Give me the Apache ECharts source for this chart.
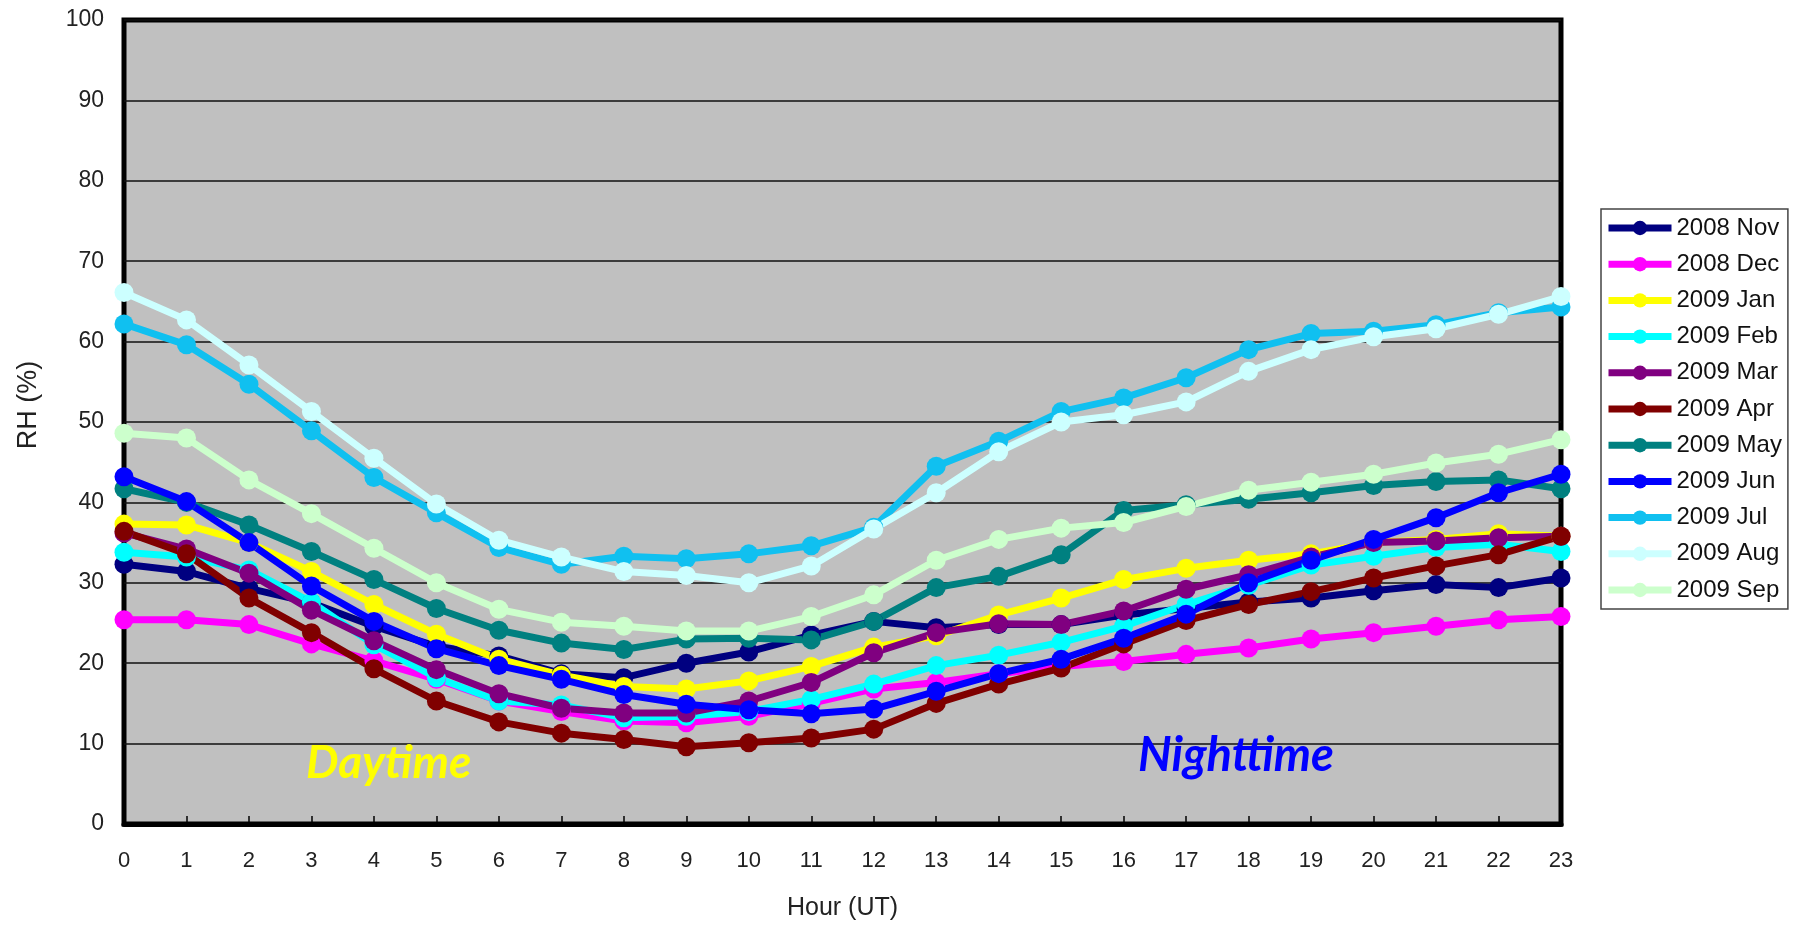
<!DOCTYPE html>
<html>
<head>
<meta charset="utf-8">
<script src="https://cdn.jsdelivr.net/npm/echarts@6/dist/echarts.min.js"></script>
<style>
html,body{margin:0;padding:0;background:#fff;}
#chart{width:1793px;height:926px;}
</style>
</head>
<body>
<div id="chart"></div>
<script>
var hours = ['0','1','2','3','4','5','6','7','8','9','10','11','12','13','14','15','16','17','18','19','20','21','22','23'];
var yTicks = [0,10,20,30,40,50,60,70,80,90,100];

var nov2008 = [32.3,31.4,29.3,27.5,24.6,22.1,20.9,18.7,18.2,20.0,21.4,23.5,25.2,24.4,24.8,24.8,26.0,26.8,27.6,28.1,29.0,29.8,29.4,30.6];
var dec2008 = [25.4,25.4,24.8,22.4,20.3,18.0,15.3,14.0,12.8,12.6,13.4,15.0,16.8,17.6,18.7,19.6,20.2,21.1,21.9,23.0,23.8,24.6,25.4,25.8];
var jan2009 = [37.3,37.2,35.0,31.4,27.3,23.6,20.5,18.5,17.1,16.8,17.8,19.6,22.0,23.4,26.0,28.1,30.4,31.8,32.8,33.6,35.0,35.4,36.1,35.8];
var feb2009 = [33.8,33.2,31.6,27.6,22.3,18.2,15.3,14.8,13.2,13.4,14.0,15.5,17.4,19.7,21.0,22.6,24.6,27.3,29.7,32.2,33.3,34.4,34.8,33.9];
var mar2009 = [36.2,34.2,31.2,26.6,22.8,19.2,16.2,14.4,13.8,13.8,15.3,17.6,21.3,23.8,24.9,24.8,26.5,29.2,31.0,33.2,35.0,35.2,35.6,35.8];
var apr2009 = [36.4,33.6,28.1,23.8,19.3,15.3,12.7,11.3,10.5,9.6,10.1,10.7,11.8,15.0,17.4,19.4,22.4,25.3,27.3,28.9,30.6,32.1,33.5,35.8];
var may2009 = [41.7,40.0,37.2,33.9,30.4,26.8,24.1,22.5,21.7,23.0,23.1,22.9,25.2,29.4,30.8,33.5,39.0,39.7,40.4,41.2,42.1,42.6,42.8,41.7];
var jun2009 = [43.2,40.1,35.0,29.6,25.2,21.8,19.7,18.0,16.1,14.9,14.2,13.7,14.3,16.5,18.7,20.5,23.1,26.1,30.0,32.8,35.4,38.1,41.2,43.5];
var jul2009 = [62.2,59.6,54.7,48.9,43.1,38.7,34.4,32.3,33.3,33.0,33.6,34.6,36.9,44.5,47.6,51.3,53.0,55.5,59.0,61.0,61.3,62.1,63.6,64.3];
var aug2009 = [66.1,62.7,57.1,51.3,45.5,39.8,35.3,33.2,31.4,30.9,30.0,32.1,36.7,41.2,46.3,50.0,50.9,52.5,56.3,59.0,60.6,61.6,63.4,65.6];
var sep2009 = [48.6,48.0,42.8,38.6,34.3,30.0,26.7,25.1,24.6,24.0,24.0,25.8,28.5,32.8,35.4,36.8,37.5,39.5,41.5,42.5,43.5,44.9,46.0,47.8];

var seriesNames = ['2008 Nov','2008 Dec','2009 Jan','2009 Feb','2009 Mar','2009 Apr','2009 May','2009 Jun','2009 Jul','2009 Aug','2009 Sep'];
var seriesData = [nov2008,dec2008,jan2009,feb2009,mar2009,apr2009,may2009,jun2009,jul2009,aug2009,sep2009];
var seriesColors = ['#000080','#FF00FF','#FFFF00','#00FFFF','#800080','#800000','#008080','#0000FF','#10C0F0','#CCFFFF','#CCFFCC'];

var chart = echarts.init(document.getElementById('chart'));
var series = seriesNames.map(function(n,i){
  return {
    name:n, type:'line', data:seriesData[i],
    symbol:'circle', symbolSize:19,
    lineStyle:{width:7,color:seriesColors[i]},
    itemStyle:{color:seriesColors[i]},
    emphasis:{disabled:true},
    animation:false
  };
});

chart.setOption({
  backgroundColor:'#ffffff',
  animation:false,
  grid:{left:124,right:232,top:20,bottom:102,show:true,backgroundColor:'#C0C0C0',borderColor:'#000',borderWidth:5,containLabel:false},
  xAxis:{
    type:'category', data:hours, boundaryGap:false,
    name:'Hour (UT)', nameLocation:'middle', nameGap:72,
    nameTextStyle:{fontFamily:'Liberation Sans',fontSize:25,color:'#222'},
    axisLine:{show:true,lineStyle:{color:'#000',width:5}},
    axisTick:{show:true,inside:true,length:8,lineStyle:{color:'#000',width:1.5}},
    axisLabel:{fontFamily:'Liberation Sans',fontSize:22,color:'#222',margin:26},
    splitLine:{show:false}
  },
  yAxis:{
    type:'value', min:yTicks[0], max:yTicks[yTicks.length-1], interval:10,
    axisLine:{show:false},
    axisTick:{show:false},
    axisLabel:{fontFamily:'Liberation Sans',fontSize:23,color:'#222',margin:20},
    splitLine:{show:true,lineStyle:{color:'#111',width:1.5}}
  },
  legend:{
    orient:'vertical', left:1601, top:209,
    padding:[7,6,7,4], itemGap:12.2, itemWidth:63, itemHeight:18,
    backgroundColor:'#fff', borderColor:'#444', borderWidth:1.5,
    lineStyle:{width:7},
    textStyle:{fontFamily:'Liberation Sans',fontSize:24,color:'#111'},
    data:seriesNames
  },
  graphic:[
    {type:'text', left:306, top:740, z:100, style:{text:'Daytime', fill:'#FFFF00', font:'italic bold 46px Lato'}},
    {type:'text', left:1138, top:732, z:100, style:{text:'Nighttime', fill:'#0000FF', font:'italic bold 47px Lato'}},
    {type:'text', x:29, y:405, rotation:Math.PI/2, z:100, style:{text:'RH (%)', fill:'#222', font:'27px Liberation Sans', align:'center', verticalAlign:'middle'}}
  ],
  series:series
});
</script>
</body>
</html>
